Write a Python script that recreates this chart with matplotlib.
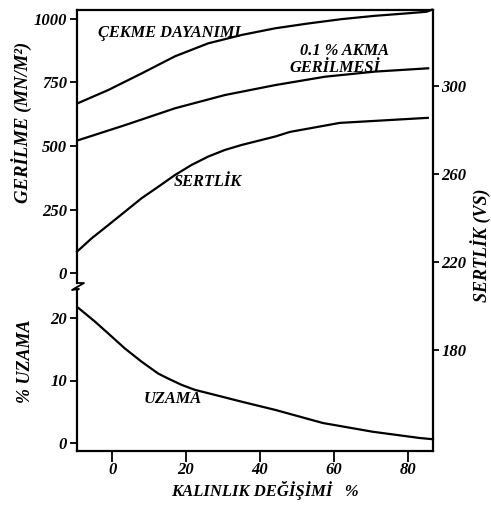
import matplotlib
matplotlib.use("Agg")
import matplotlib.pyplot as plt
from matplotlib.lines import Line2D

# ---------------- data ----------------
x_ticks = [0, 20, 40, 60, 80]
stress_ticks = [0, 250, 500, 750, 1000]
elong_ticks = [0, 10, 20]
hard_ticks = [180, 220, 260, 300]

tensile_x = [-9.1, -1.0, 8.0, 17.0, 26.0, 35.1, 44.1, 53.1, 62.1, 71.1, 80.1, 85.1, 86.5]
tensile_y = [669, 720, 785, 852, 903, 936, 962, 981, 998, 1011, 1021, 1027, 1035]

yield_x = [-9.1, 3.5, 17.0, 30.5, 44.1, 57.6, 71.1, 85.5]
yield_y = [523, 582, 648, 700, 739, 772, 792, 805]

hard_x = [-9.5, -5.5, -1.0, 3.5, 8.0, 12.5, 17.0, 21.5, 26.0, 30.5, 35.1, 44.1,
          48.1, 61.6, 75.1, 85.4]
hard_y = [224.7, 230.8, 236.8, 242.9, 249.0, 254.2, 259.5, 264.1, 267.9, 270.9,
          273.2, 277.0, 279.1, 283.2, 284.5, 285.5]

elong_x = [-9.1, -4.6, -1.0, 3.5, 8.0, 12.5, 15.2, 18.8, 22.4, 27.8, 35.1, 44.1,
           57.0, 70.5, 83.2, 86.8]
elong_y = [21.6, 19.4, 17.5, 15.1, 13.0, 11.1, 10.3, 9.3, 8.5, 7.7, 6.6, 5.3,
           3.2, 1.8, 0.8, 0.6]

# ---------------- style ----------------
W, H = 491, 513
FONT = dict(family="Liberation Serif", style="italic", weight="bold")
LW = 1.6

fig = plt.figure(figsize=(W / 100, H / 100), dpi=100)

def fx(px):
    return px / W

def fy(py):
    return 1 - py / H

L, R, T, B = 77, 433, 10, 451
BRK_T, BRK_B = 283, 290
XLIM = (-9.5, 86.8)

ax_top = fig.add_axes([fx(L), fy(BRK_T), fx(R) - fx(L), fy(T) - fy(BRK_T)])
ax_bot = fig.add_axes([fx(L), fy(B), fx(R) - fx(L), fy(BRK_B) - fy(B)])
ax_h = fig.add_axes([fx(L), fy(B), fx(R) - fx(L), fy(T) - fy(B)])
ax_h.patch.set_alpha(0)

for a in (ax_top, ax_bot, ax_h):
    a.set_xlim(*XLIM)
    for s in a.spines.values():
        s.set_linewidth(LW)
        s.set_visible(False)

ax_top.set_ylim(-37.7, 1033.8)
ax_bot.set_ylim(-1.28, 24.48)
ax_h.set_ylim(134.1, 334.5)

# spines
ax_top.spines["left"].set_visible(True)
ax_bot.spines["left"].set_visible(True)
ax_bot.spines["bottom"].set_visible(True)
ax_h.spines["right"].set_visible(True)
ax_h.spines["top"].set_visible(True)

# ticks
ax_top.set_xticks([])
ax_top.set_yticks(stress_ticks)
ax_top.set_yticklabels([str(v) for v in stress_ticks])
ax_top.tick_params(axis="y", direction="out", length=5, width=1.3, pad=2)

ax_bot.set_xticks(x_ticks)
ax_bot.set_xticklabels([str(v) for v in x_ticks])
ax_bot.set_yticks(elong_ticks)
ax_bot.set_yticklabels([str(v) for v in elong_ticks])
ax_bot.tick_params(axis="y", direction="out", length=5, width=1.3, pad=2)
ax_bot.tick_params(axis="x", direction="out", length=8, width=1.3, pad=0)

ax_h.set_xticks([])
ax_h.yaxis.tick_right()
ax_h.set_yticks(hard_ticks)
ax_h.set_yticklabels([str(v) for v in hard_ticks])
ax_h.tick_params(axis="y", direction="out", length=4, width=1.3, pad=2)

for a in (ax_top, ax_bot, ax_h):
    for lab in a.get_xticklabels() + a.get_yticklabels():
        lab.set_fontfamily(FONT["family"])
        lab.set_fontstyle(FONT["style"])
        lab.set_fontweight(FONT["weight"])
        lab.set_fontsize(12)

# curves
ax_top.plot(tensile_x, tensile_y, color="black", lw=LW, clip_on=False)
ax_top.plot(yield_x, yield_y, color="black", lw=LW, clip_on=False)
ax_h.plot(hard_x, hard_y, color="black", lw=LW, clip_on=False)
ax_bot.plot(elong_x, elong_y, color="black", lw=LW, clip_on=False)

# axis break symbol on left spine
bx = [77, 77, 84, 72, 79, 77, 77]
by = [281, 283, 283, 290, 289, 290, 292]
fig.add_artist(Line2D([fx(v) for v in bx], [fy(v) for v in by],
                      color="black", lw=1.3, transform=fig.transFigure))

# texts
def t(px, py, s, size=11.8, rot=0, ha="center"):
    fig.text(fx(px), fy(py), s, fontsize=size, rotation=rot, ha=ha,
             va="center", **FONT)

t(169, 33, "ÇEKME DAYANIMI")
t(344, 51, "0.1 % AKMA")
t(335, 68, "GERİLMESİ")
t(208, 182, "SERTLİK")
t(173, 399, "UZAMA")
t(22, 122, "GERİLME (MN/M²)", size=13.5, rot=90)
t(26, 361, "% UZAMA", size=13, rot=90)
t(481, 245, "SERTLİK (VS)", size=13, rot=90)
t(265, 490, "KALINLIK DEĞİŞİMİ   %", size=12)

fig.savefig("out.png", dpi=100)
